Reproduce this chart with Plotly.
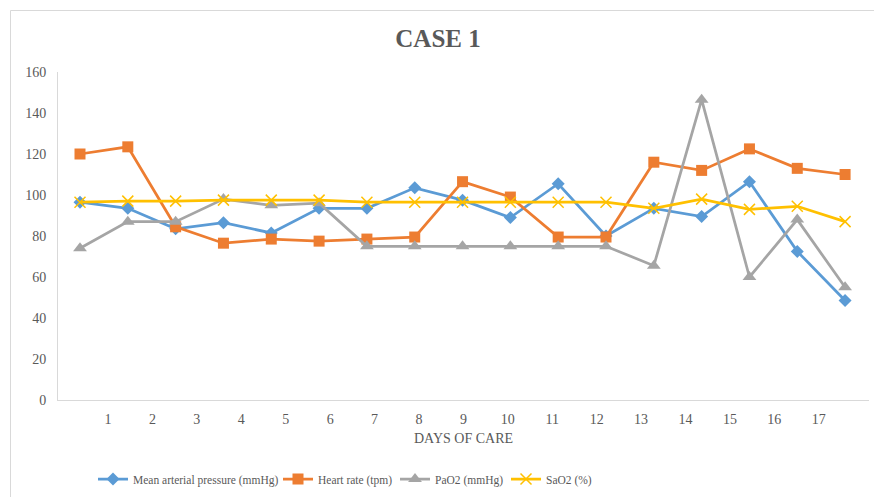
import plotly.graph_objects as go

# ---- data ----
days = [1, 2, 3, 4, 5, 6, 7, 8, 9, 10, 11, 12, 13, 14, 15, 16, 17]
day_labels = ["1", "2", "3", "4", "5", "6", "7", "8", "9", "10", "11", "12", "13", "14", "15", "16", "17"]
y_ticks = [0, 20, 40, 60, 80, 100, 120, 140, 160]

map_mmHg = [96.5, 93.5, 83.5, 86.5, 81.5, 93.5, 93.5, 103.5, 97.5, 89, 105.5, 80, 93.5, 89.5, 106.5, 72.5, 48.5]
heart_rate = [120, 123.5, 84.5, 76.5, 78.5, 77.5, 78.5, 79.5, 106.5, 99, 79.5, 79.5, 116, 112, 122.5, 113, 110]
pao2 = [74, 87, 87, 98, 95, 96, 75, 75, 75, 75, 75, 75, 65.5, 146.5, 60, 88, 55]
sao2 = [96.5, 97, 97, 97.5, 97.5, 97.5, 96.5, 96.5, 96.5, 96.5, 96.5, 96.5, 93.5, 98, 93, 94.5, 87]

names = ["Mean arterial pressure (mmHg)", "Heart rate (tpm)", "PaO2 (mmHg)", "SaO2 (%)"]
colors = ["#5B9BD5", "#ED7D31", "#A5A5A5", "#FFC000"]

FONT = "Liberation Serif, Times New Roman, serif"
TXT = "#595959"

# plot-area geometry (pixels)
W, H = 874, 497
L, R, T, B = 58, 5, 72, 97
pw, ph = W - L - R, H - T - B

# tick label positions (category labels are offset from the points in the original)
first_tick, tick_step = 1.586, 0.929
tick_pos = [first_tick + i * tick_step for i in range(len(day_labels))]

fig = go.Figure()
series = [map_mmHg, heart_rate, pao2, sao2]
markers = [
    dict(symbol="diamond", size=10, color=colors[0]),
    dict(symbol="square", size=11, color=colors[1]),
    dict(symbol="triangle-up", size=12, color=colors[2]),
    dict(symbol="x-thin", size=11, color=colors[3], line=dict(color=colors[3], width=1.5)),
]
legend_ids = ["legend", "legend2", "legend3", "legend4"]
legend_px = [98, 283, 400, 511]

for i, (vals, name) in enumerate(zip(series, names)):
    fig.add_trace(go.Scatter(
        x=days, y=vals, name=name, mode="lines+markers",
        line=dict(color=colors[i], width=2.75),
        marker=markers[i],
        legend=legend_ids[i],
    ))

legend_y = -(479 - (H - B)) / ph
leg_common = dict(
    orientation="h", yanchor="middle", y=legend_y, xanchor="left",
    font=dict(family=FONT, size=11.5, color=TXT), bgcolor="rgba(0,0,0,0)",
    itemwidth=30, tracegroupgap=0,
)
layout_legends = {}
for lid, px in zip(legend_ids, legend_px):
    layout_legends[lid] = dict(leg_common, x=(px - 5 - L) / pw)

bx = (10.5 - L) / pw
by = (H - B - 10.5) / ph
fig.update_layout(
    width=W, height=H,
    margin=dict(l=L, r=R, t=T, b=B, autoexpand=False),
    paper_bgcolor="white", plot_bgcolor="white",
    showlegend=True,
    title=dict(text="<b>CASE 1</b>", x=438 / W, xanchor="center", y=1 - 38 / H, yanchor="middle",
               font=dict(family=FONT, size=25, color=TXT)),
    xaxis=dict(range=[0.54, 17.5], tickvals=tick_pos, ticktext=day_labels,
               showgrid=False, zeroline=False, showline=True, linecolor="#D9D9D9", linewidth=1,
               ticks="outside", ticklen=6, tickcolor="rgba(0,0,0,0)",
               tickfont=dict(family=FONT, size=14, color=TXT)),
    yaxis=dict(range=[0, 160], tickvals=y_ticks, showgrid=False, zeroline=False,
               showline=True, linecolor="#D9D9D9", linewidth=1,
               ticks="outside", ticklen=8, tickcolor="rgba(0,0,0,0)",
               tickfont=dict(family=FONT, size=14, color=TXT)),
    annotations=[dict(text="DAYS OF CARE", xref="paper", yref="paper", x=0.5,
                      y=-(438 - (H - B)) / ph, xanchor="center", yanchor="middle",
                      showarrow=False, font=dict(family=FONT, size=14, color=TXT))],
    shapes=[
        dict(type="line", xref="paper", yref="paper", x0=bx, x1=bx, y0=by, y1=-(B + 5) / ph,
             line=dict(color="#D9D9D9", width=1), layer="below"),
        dict(type="line", xref="paper", yref="paper", x0=bx, x1=(W + 5 - L) / pw, y0=by, y1=by,
             line=dict(color="#D9D9D9", width=1), layer="below"),
    ],
    **layout_legends,
)

fig.write_html("out.html",
               config={"displayModeBar": False},
               post_script="document.body.style.margin='0';document.body.style.overflow='hidden';")
